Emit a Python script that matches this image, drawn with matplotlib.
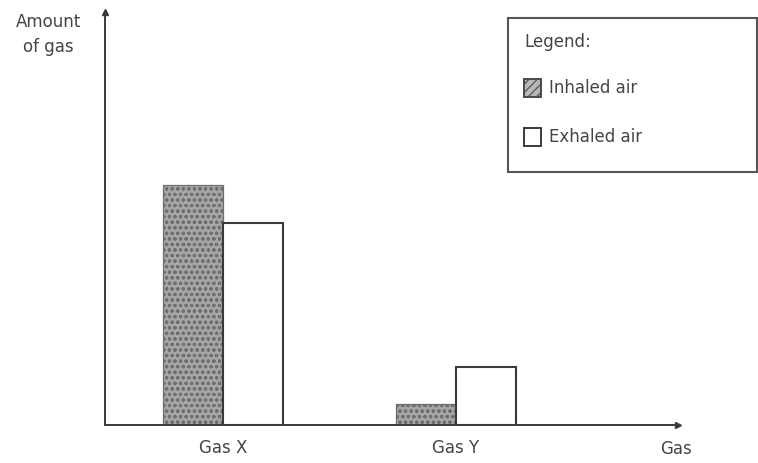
import matplotlib

matplotlib.use("Agg")

import matplotlib.pyplot as plt
from matplotlib.patches import Rectangle
import numpy as np


GASES = ["Gas X", "Gas Y"]
INHALED = [58, 5]
EXHALED = [49, 14]
SERIES = ["Inhaled air", "Exhaled air"]

plt.rcParams["font.family"] = ["DejaVu Sans"]
plt.rcParams["hatch.linewidth"] = 0.8

INK = "#3a3a3a"
TEXT = "#444444"

fig = plt.figure(figsize=(7.58, 4.63), dpi=100)
fig.patch.set_facecolor("white")

W, H = 758, 463
# axes box in pixels: left 105, right 678, bottom 425, top 12
ax = fig.add_axes([105 / W, (H - 425) / H, (678 - 105) / W, (425 - 12) / H])

x = np.arange(len(GASES))
width = 0.258

ax.bar(x - width / 2, INHALED, width, color="#a6a6a6", edgecolor="#6e6e6e",
       hatch="ooo", linewidth=0.9, zorder=2)
ax.bar(x + width / 2, EXHALED, width, color="white", edgecolor=INK,
       linewidth=1.5, zorder=2)

ax.set_xlim(-0.506, 1.953)
ax.set_ylim(0, 100)
ax.set_xticks(x)
ax.set_xticklabels(GASES, fontsize=12, color=TEXT)
ax.tick_params(axis="x", length=0, pad=10)
ax.set_yticks([])

for side in ["top", "right"]:
    ax.spines[side].set_visible(False)
for side in ["left", "bottom"]:
    ax.spines[side].set_color(INK)
    ax.spines[side].set_linewidth(1.4)

# arrow heads on the axes
ax.plot(1, 0, marker=">", color=INK, markersize=5, transform=ax.transAxes, clip_on=False)
ax.plot(0, 1, marker="^", color=INK, markersize=5, transform=ax.transAxes, clip_on=False)

fig.text(48 / W, 1 - 22 / H, "Amount", ha="center", va="center", fontsize=12, color=TEXT)
fig.text(48 / W, 1 - 47 / H, "of gas", ha="center", va="center", fontsize=12, color=TEXT)
fig.text(676 / W, 1 - 449 / H, "Gas", ha="center", va="center", fontsize=12, color=TEXT)

# legend box drawn by hand
fig.add_artist(Rectangle((508 / W, 1 - 172 / H), (757 - 508) / W, (172 - 18) / H,
                         transform=fig.transFigure, facecolor="white",
                         edgecolor="#555555", linewidth=1.5))
fig.text(524 / W, 1 - 42 / H, "Legend:", ha="left", va="center", fontsize=12, color=TEXT)
swatches = [("#b8b8b8", "////", "#4a4a4a"), ("white", None, INK)]
for i, (label, (fc, hatch, ec)) in enumerate(zip(SERIES, swatches)):
    yc = 88 + i * 49
    fig.add_artist(Rectangle((524 / W, 1 - (yc + 9) / H), 17 / W, 18 / H,
                             transform=fig.transFigure, facecolor=fc, hatch=hatch,
                             edgecolor=ec, linewidth=1.4))
    fig.text(549 / W, 1 - yc / H, label, ha="left", va="center", fontsize=12, color=TEXT)

fig.savefig("out.png", dpi=100)
